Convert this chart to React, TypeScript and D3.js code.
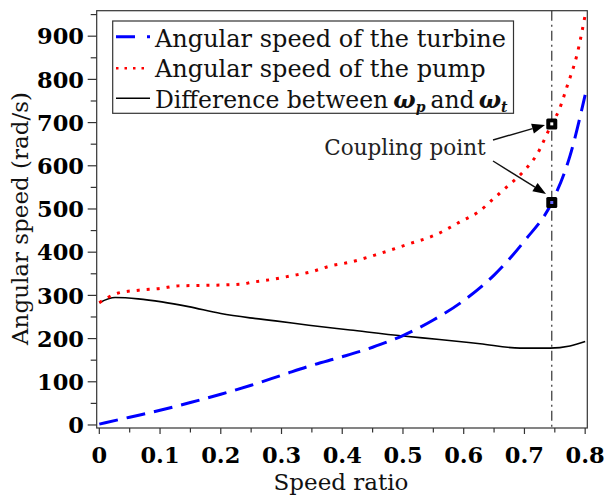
import React from "react";
import * as d3 from "d3";

// Speed ratio samples and angular speeds (rad/s) for each curve
const turbineRatio = [0, 0.05, 0.1, 0.15, 0.2, 0.25, 0.3, 0.35, 0.4, 0.45, 0.5, 0.55, 0.6, 0.65, 0.7, 0.745, 0.775, 0.8];
const turbineSpeed = [2, 18, 34, 52, 71, 92, 115, 138, 158, 180, 207, 243, 288, 347, 426, 515, 623, 764];

const pumpRatio = [0, 0.03, 0.065, 0.1, 0.13, 0.165, 0.2, 0.235, 0.25, 0.28, 0.315, 0.35, 0.38, 0.41, 0.46, 0.505, 0.555, 0.595, 0.625, 0.65, 0.675, 0.7, 0.72, 0.745, 0.757, 0.77, 0.787, 0.8];
const pumpSpeed = [283, 305, 312, 316, 322, 323, 324, 326, 330, 336, 345, 355, 368, 376, 396, 417, 441, 471, 494, 525, 556, 589, 625, 697, 729, 783, 860, 949];

const diffRatio = [0, 0.026, 0.064, 0.103, 0.147, 0.2, 0.248, 0.29, 0.345, 0.413, 0.5, 0.56, 0.627, 0.693, 0.742, 0.775, 0.8];
const diffSpeed = [283, 295, 292, 285, 274, 258, 248, 241, 231, 220, 206, 198, 188, 178, 178, 183, 193];

// Coupling point
const couplingRatio = 0.745;
const couplingPump = 697;
const couplingTurbine = 515;

const xTicks = [0, 0.1, 0.2, 0.3, 0.4, 0.5, 0.6, 0.7, 0.8];
const xMinor = [0.05, 0.15, 0.25, 0.35, 0.45, 0.55, 0.65, 0.75];
const yTicks = [0, 100, 200, 300, 400, 500, 600, 700, 800, 900];
const yMinor = [50, 150, 250, 350, 450, 550, 650, 750, 850, 950];

const legendLabels = ["Angular speed of the turbine", "Angular speed of the pump"];

const W = 605;
const H = 496;
const left = 96.7;
const right = 587.3;
const top = 10.7;
const bottom = 428;

const serif = "'DejaVu Serif', serif";

export default function App() {
  const x = d3.scaleLinear().domain([-0.0043, 0.8035]).range([left, right]);
  const y = d3.scaleLinear().domain([-7, 959]).range([bottom, top]);

  const line = d3
    .line<[number, number]>()
    .x((d) => x(d[0]))
    .y((d) => y(d[1]))
    .curve(d3.curveMonotoneX);

  const zip = (a: number[], b: number[]) => a.map((v, i) => [v, b[i]] as [number, number]);

  const cx = x(couplingRatio);
  const pumpY = y(couplingPump);
  const turbY = y(couplingTurbine);

  const arrow = (x1: number, y1: number, x2: number, y2: number) => {
    const ang = Math.atan2(y2 - y1, x2 - x1);
    const len = 13;
    const half = 5;
    const bx = x2 - len * Math.cos(ang);
    const by = y2 - len * Math.sin(ang);
    const px = -Math.sin(ang) * half;
    const py = Math.cos(ang) * half;
    return (
      <g>
        <line x1={x1} y1={y1} x2={bx} y2={by} stroke="#111" strokeWidth={1.4} />
        <polygon points={`${x2},${y2} ${bx + px},${by + py} ${bx - px},${by - py}`} fill="#000" />
      </g>
    );
  };

  const sampleY = [36.7, 68.3, 98.3];
  const textY = [46.5, 77, 108];

  return (
    <svg width={W} height={H} style={{ position: "absolute", left: 0, top: 0 }} fontFamily={serif}>
      <rect width={W} height={H} fill="#fff" />
      <defs>
        <clipPath id="plotClip">
          <rect x={left} y={top} width={right - left} height={bottom - top} />
        </clipPath>
      </defs>

      {/* coupling ratio guide */}
      <line x1={cx} x2={cx} y1={top} y2={bottom} stroke="#333" strokeWidth={1.2} strokeDasharray="10 4 2 4" />

      <g clipPath="url(#plotClip)">
        <path d={line(zip(diffRatio, diffSpeed)) || ""} fill="none" stroke="#000" strokeWidth={1.6} />
        <path d={line(zip(pumpRatio, pumpSpeed)) || ""} fill="none" stroke="#ff0000" strokeWidth={3} strokeDasharray="3 7" />
        <path d={line(zip(turbineRatio, turbineSpeed)) || ""} fill="none" stroke="#0000ff" strokeWidth={3} strokeDasharray="19 9" />
      </g>

      {/* coupling point markers */}
      {[pumpY, turbY].map((py, i) => (
        <g key={i}>
          <rect x={cx - 5.5} y={py - 5.5} width={11} height={11} rx={1.5} fill="#000" />
          <rect x={cx - 1.5} y={py - 1.5} width={3} height={3} fill={i === 0 ? "#fff" : "#66f"} />
        </g>
      ))}

      {/* annotation */}
      <text x={405} y={155} textAnchor="middle" fontSize={21.5} fill="#222">Coupling point</text>
      {arrow(493, 140, 545, 125)}
      {arrow(493, 161, 546, 194)}

      {/* frame */}
      <rect x={left} y={top} width={right - left} height={bottom - top} fill="none" stroke="#333" strokeWidth={1.2} />

      {/* y axis */}
      {yTicks.map((t) => (
        <g key={"y" + t}>
          <line x1={left - 9} x2={left} y1={y(t)} y2={y(t)} stroke="#333" strokeWidth={1.2} />
          <text x={84} y={y(t) + 8.3} textAnchor="end" fontSize={22.5} fontWeight="bold" fill="#000">{t}</text>
        </g>
      ))}
      {yMinor.map((t) => (
        <line key={"ym" + t} x1={left - 6} x2={left} y1={y(t)} y2={y(t)} stroke="#333" strokeWidth={1.2} />
      ))}

      {/* x axis */}
      {xTicks.map((t) => (
        <g key={"x" + t}>
          <line x1={x(t)} x2={x(t)} y1={bottom} y2={bottom + 6} stroke="#333" strokeWidth={1.2} />
          <text x={x(t)} y={463.3} textAnchor="middle" fontSize={22.5} fontWeight="bold" fill="#000">{t === 0 ? "0" : t.toFixed(1)}</text>
        </g>
      ))}
      {xMinor.map((t) => (
        <line key={"xm" + t} x1={x(t)} x2={x(t)} y1={bottom} y2={bottom + 4.5} stroke="#333" strokeWidth={1.2} />
      ))}

      <text x={341} y={489.5} textAnchor="middle" fontSize={23} fill="#111">Speed ratio</text>
      <text transform="translate(28,218.5) rotate(-90)" textAnchor="middle" fontSize={23} fill="#111">Angular speed (rad/s)</text>

      {/* legend */}
      <rect x={112.7} y={21} width={400.8} height={92.3} fill="#fff" stroke="#333" strokeWidth={1.2} />
      <line x1={116} x2={150} y1={sampleY[0]} y2={sampleY[0]} stroke="#0000ff" strokeWidth={3} strokeDasharray="19 12" />
      <line x1={116} x2={150} y1={sampleY[1]} y2={sampleY[1]} stroke="#ff0000" strokeWidth={2.5} strokeDasharray="2.5 6" />
      <line x1={116} x2={150} y1={sampleY[2]} y2={sampleY[2]} stroke="#000" strokeWidth={1.6} />
      {legendLabels.map((l, i) => (
        <text key={l} x={155} y={textY[i]} fontSize={24} fill="#111">{l}</text>
      ))}
      <text x={155} y={textY[2]} fontSize={23.5} fill="#111">
        <tspan>Difference between</tspan>
        <tspan fontWeight="bold" fontStyle="italic" dx={5}>ω</tspan>
        <tspan fontWeight="bold" fontStyle="italic" fontSize={14} dy={4}>p</tspan>
        <tspan dy={-4} dx={5}>and</tspan>
        <tspan fontWeight="bold" fontStyle="italic" dx={4}>ω</tspan>
        <tspan fontWeight="bold" fontStyle="italic" fontSize={14} dy={4}>t</tspan>
      </text>
    </svg>
  );
}
